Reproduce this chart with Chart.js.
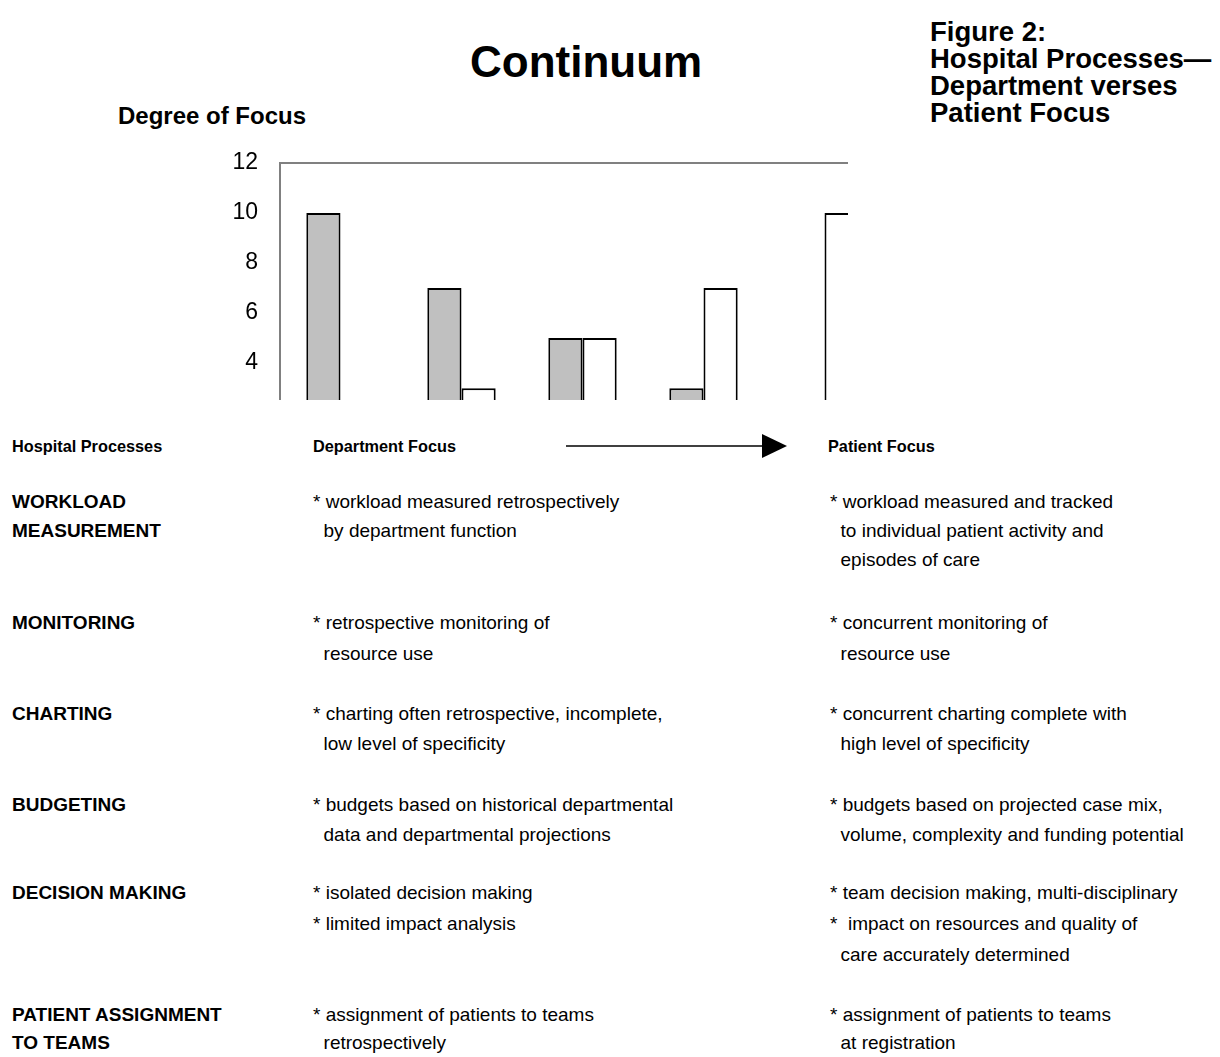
<!DOCTYPE html>
<html>
<head>
<meta charset="utf-8">
<script src="https://cdn.jsdelivr.net/npm/chart.js@4"></script>
<style>
  html, body { margin: 0; padding: 0; background: #fff; }
  body { width: 1220px; height: 1057px; position: relative; overflow: hidden;
         font-family: "Liberation Sans", Arial, Helvetica, sans-serif; color: #000; }
  .t { position: absolute; white-space: pre; }
  #title { left: 470px; top: 34px; font-size: 44px; font-weight: bold; line-height: 56px; }
  #ylabel { left: 118px; top: 101px; font-size: 24px; font-weight: bold; line-height: 30px; }
  #caption { left: 930px; top: 18px; font-size: 27.5px; font-weight: bold; line-height: 27px; }
  #chartBox { position: absolute; left: 0; top: 0; width: 848px; height: 400px; overflow: hidden; }
  #chartBox canvas { position: absolute; left: 0; top: 0; }
  .hd { font-size: 16.3px; font-weight: bold; line-height: 30px; }
  .proc { font-size: 19px; font-weight: bold; line-height: 30px; }
  .body { font-size: 19px; line-height: 30px; }
  #arrow { position: absolute; left: 560px; top: 430px; }
</style>
</head>
<body>
<div id="title" class="t">Continuum</div>
<div id="ylabel" class="t">Degree of Focus</div>
<div id="caption" class="t">Figure 2:
Hospital Processes—
Department verses
Patient Focus</div>

<div id="chartBox"><canvas id="focusChart" width="900" height="499"></canvas></div>

<svg id="arrow" width="240" height="32">
  <line x1="6" y1="16" x2="205" y2="16" stroke="#000" stroke-width="1.3"/>
  <polygon points="202,4 202,28 227,16" fill="#000"/>
</svg>

<div id="table"></div>

<script>
// stages along the continuum, department focus -> patient focus
const stages = ['1', '2', '3', '4', '5'];
const departmentFocus = [10, 7, 5, 3, 0];
const patientFocus = [0, 3, 5, 7, 10];
const yTicks = [12, 10, 8, 6, 4, 2];

// table text
const headers = ['Hospital Processes', 'Department Focus', 'Patient Focus'];
const processes = [
  ['WORKLOAD', 'MEASUREMENT'],
  ['MONITORING'],
  ['CHARTING'],
  ['BUDGETING'],
  ['DECISION MAKING'],
  ['PATIENT ASSIGNMENT', 'TO TEAMS']
];
const deptNotes = [
  ['* workload measured retrospectively', '  by department function'],
  ['* retrospective monitoring of', '  resource use'],
  ['* charting often retrospective, incomplete,', '  low level of specificity'],
  ['* budgets based on historical departmental', '  data and departmental projections'],
  ['* isolated decision making', '* limited impact analysis'],
  ['* assignment of patients to teams', '  retrospectively']
];
const patientNotes = [
  ['* workload measured and tracked', '  to individual patient activity and', '  episodes of care'],
  ['* concurrent monitoring of', '  resource use'],
  ['* concurrent charting complete with', '  high level of specificity'],
  ['* budgets based on projected case mix,', '  volume, complexity and funding potential'],
  ['* team decision making, multi-disciplinary', '*  impact on resources and quality of', '  care accurately determined'],
  ['* assignment of patients to teams', '  at registration']
];

// first-line centre of each table row and line pitch
const rowTops = [502, 623, 714, 805, 893, 1015];
const linePitch = [29, 31, 30, 30, 31, 28];
const colX = [12, 313, 830];

const table = document.getElementById('table');
function put(text, x, yc, cls) {
  const d = document.createElement('div');
  d.className = 't ' + cls;
  d.textContent = text;
  d.style.left = x + 'px';
  d.style.top = (yc - 15) + 'px';
  table.appendChild(d);
}

put(headers[0], colX[0], 446, 'hd');
put(headers[1], colX[1], 446, 'hd');
put(headers[2], 828, 446, 'hd');

rowTops.forEach((y0, i) => {
  processes[i].forEach((s, k) => put(s, colX[0], y0 + k * linePitch[i], 'proc'));
  deptNotes[i].forEach((s, k) => put(s, colX[1], y0 + k * linePitch[i], 'body'));
  patientNotes[i].forEach((s, k) => put(s, colX[2], y0 + k * linePitch[i], 'body'));
});

new Chart(document.getElementById('focusChart'), {
  type: 'bar',
  data: {
    labels: stages,
    datasets: [{
      label: 'Department Focus',
      data: departmentFocus,
      backgroundColor: '#c0c0c0',
      borderColor: '#000',
      borderWidth: 2
    }, {
      label: 'Patient Focus',
      data: patientFocus,
      backgroundColor: '#ffffff',
      borderColor: '#000',
      borderWidth: 2
    }]
  },
  options: {
    responsive: false,
    animation: false,
    events: [],
    layout: { padding: { left: 0, top: 163, right: 15, bottom: 17 } },
    datasets: { bar: { categoryPercentage: 0.565, barPercentage: 1.0 } },
    plugins: { legend: { display: false }, tooltip: { enabled: false } },
    scales: {
      x: { display: false },
      y: {
        min: 0,
        max: 12,
        afterBuildTicks: scale => { scale.ticks = yTicks.map(v => ({ value: v })); },
        afterFit: scale => { scale.width = 280; },
        border: { display: true, color: '#808080', width: 2 },
        grid: {
          drawTicks: false,
          lineWidth: 2,
          color: ctx => (ctx.tick && ctx.tick.value === 12) ? '#808080' : 'rgba(0,0,0,0)'
        },
        ticks: {
          padding: 22,
          color: '#000',
          font: { family: '"Liberation Sans", Arial, sans-serif', size: 23 }
        }
      }
    }
  }
});
</script>
</body>
</html>
